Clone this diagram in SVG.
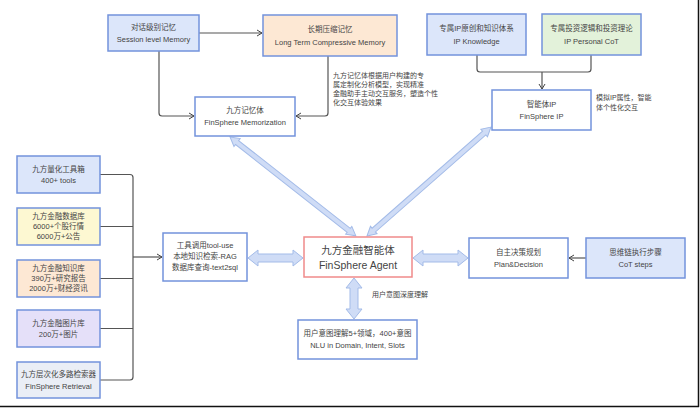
<svg xmlns="http://www.w3.org/2000/svg" width="700" height="409" viewBox="0 0 700 409">
<defs>
<marker id="ah" markerWidth="8" markerHeight="8" refX="6" refY="4" orient="auto" markerUnits="userSpaceOnUse">
<path d="M1,1 L6,4 L1,7" fill="none" stroke="#444" stroke-width="1"/>
</marker>
<style>
.box{stroke:#7393dc;stroke-width:1.5}
.t{font-family:"Liberation Sans","Noto Sans CJK SC",sans-serif;font-size:7.5px;fill:#444;text-anchor:middle}
.ta{font-family:"Liberation Sans","Noto Sans CJK SC",sans-serif;font-size:7px;fill:#444}
.big{font-family:"Liberation Sans","Noto Sans CJK SC",sans-serif;font-size:10.5px;fill:#444;text-anchor:middle}
.c{fill:none;stroke:#555;stroke-width:1.2}
.ba{fill:#cfdcf6;stroke:#a3bbe8;stroke-width:1}
</style>
</defs>
<rect width="700" height="409" fill="#fff"/>
<line x1="698.5" y1="0" x2="698.5" y2="407" stroke="#111" stroke-width="1.5"/>
<line x1="0" y1="406.5" x2="699" y2="406.5" stroke="#111" stroke-width="1.5"/>

<g id="connectors">
<line class="c" x1="199" y1="33" x2="262" y2="33" marker-end="url(#ah)"/>
<path class="c" d="M159,51 V113 Q159,116 162,116 H194" marker-end="url(#ah)"/>
<path class="c" d="M328,56 V113 Q328,116 325,116 H296" marker-end="url(#ah)"/>
<path class="c" d="M477,55 V69 Q477,72 480,72 H588 Q591,72 591,69 V55"/>
<line class="c" x1="542" y1="72" x2="542" y2="89" marker-end="url(#ah)"/>
<path class="c" d="M100,174.5 H130 Q133,174.5 133,177.5 V377 Q133,380 130,380 H100"/>
<line class="c" x1="100" y1="226.5" x2="133" y2="226.5"/>
<line class="c" x1="100" y1="278.5" x2="133" y2="278.5"/>
<line class="c" x1="100" y1="328.5" x2="133" y2="328.5"/>
<line class="c" x1="133" y1="257" x2="162" y2="257" marker-end="url(#ah)"/>
<line class="c" x1="586" y1="258" x2="569" y2="258" marker-end="url(#ah)"/>
<polygon class="ba" points="248,258 258,250 258,254 293,254 293,250 303,258 293,266 293,262 258,262 258,266"/>
<polygon class="ba" points="413,258 423,250 423,254 458,254 458,250 468,258 458,266 458,262 423,262 423,266"/>
<polygon class="ba" points="354,278 362,288 358,288 358,309 362,309 354,319 346,309 350,309 350,288 346,288"/>
<polygon class="ba" transform="translate(230,137) rotate(38.16)" points="0,0 9,-5 9,-2.5 151,-2.5 151,-5 160,0 151,5 151,2.5 9,2.5 9,5"/>
<polygon class="ba" transform="translate(367,236) rotate(-41.31)" points="0,0 9,-5 9,-2.5 156,-2.5 156,-5 165,0 156,5 156,2.5 9,2.5 9,5"/>
</g>

<g id="session"><rect class="box" x="108" y="15" width="91" height="36" fill="#dce6fa"/>
<text class="t" x="153.5" y="30">对话级别记忆</text><text class="t" x="153.5" y="42">Session level Memory</text></g>
<g id="longterm"><rect class="box" x="263" y="15" width="134" height="41" fill="#fde8d4"/>
<text class="t" x="330" y="32">长期压缩记忆</text><text class="t" x="330" y="45">Long Term Compressive Memory</text></g>
<g id="memory"><rect class="box" x="195" y="97" width="100" height="39" fill="#fff"/>
<text class="t" x="245" y="113">九方记忆体</text><text class="t" x="245" y="125">FinSphere Memorization</text></g>
<g id="memory-note">
<text class="ta" x="333" y="78">九方记忆体根据用户构建的专</text>
<text class="ta" x="333" y="87">属定制化分析模型，实现精准</text>
<text class="ta" x="333" y="96">金融助手主动交互服务，塑造个性</text>
<text class="ta" x="333" y="105">化交互体验效果</text>
</g>
<g id="ipknowledge"><rect class="box" x="427" y="14" width="99" height="41" fill="#dce6fa"/>
<text class="t" x="476.5" y="31">专属IP原创和知识体系</text><text class="t" x="476.5" y="44">IP Knowledge</text></g>
<g id="ipcot"><rect class="box" x="542" y="14" width="99" height="41" fill="#e3f2da"/>
<text class="t" x="591.5" y="31">专属投资逻辑和投资理论</text><text class="t" x="591.5" y="44">IP Personal CoT</text></g>
<g id="ip"><rect class="box" x="492" y="90" width="99" height="40" fill="#fff"/>
<text class="t" x="541.5" y="107">智能体IP</text><text class="t" x="541.5" y="119">FinSphere IP</text></g>
<g id="ip-note">
<text class="ta" x="596" y="100">模拟IP属性，智能</text>
<text class="ta" x="596" y="110">体个性化交互</text>
</g>
<g id="tools"><rect class="box" x="17" y="156" width="83" height="37" fill="#dce6fa"/>
<text class="t" x="58.5" y="172">九方量化工具箱</text><text class="t" x="58.5" y="183">400+ tools</text></g>
<g id="database"><rect class="box" x="17" y="208" width="83" height="37" fill="#fdf8d2"/>
<text class="t" x="58.5" y="219">九方金融数据库</text><text class="t" x="58.5" y="229">6000+个股行情</text><text class="t" x="58.5" y="239">6000万+公告</text></g>
<g id="knowledge"><rect class="box" x="17" y="260" width="83" height="37" fill="#fde8d4"/>
<text class="t" x="58.5" y="271">九方金融知识库</text><text class="t" x="58.5" y="281">390万+研究报告</text><text class="t" x="58.5" y="291">2000万+财经资讯</text></g>
<g id="images"><rect class="box" x="17" y="310" width="83" height="37" fill="#e5e0f9"/>
<text class="t" x="58.5" y="326">九方金融图片库</text><text class="t" x="58.5" y="337">200万+图片</text></g>
<g id="retrieval"><rect class="box" x="17" y="362" width="83" height="36" fill="#eaeef6"/>
<text class="t" x="58.5" y="377">九方层次化多路检索器</text><text class="t" x="58.5" y="389">FinSphere Retrieval</text></g>
<g id="tooluse"><rect class="box" x="163" y="233" width="84" height="48" fill="#fff"/>
<text class="t" x="205" y="248">工具调用tool-use</text><text class="t" x="205" y="259">本地知识检索-RAG</text><text class="t" x="205" y="270">数据库查询-text2sql</text></g>
<g id="agent"><rect x="304" y="237" width="108" height="40" fill="#fff" stroke="#f08a8a" stroke-width="1.5"/>
<text class="big" x="358" y="254">九方金融智能体</text><text class="big" x="358" y="269">FinSphere Agent</text></g>
<g id="nlu-note"><text class="ta" x="372" y="297">用户意图深度理解</text></g>
<g id="nlu"><rect class="box" x="298" y="320" width="119" height="39" fill="#fff"/>
<text class="t" x="357.5" y="336">用户意图理解5+领域，400+意图</text><text class="t" x="357.5" y="348">NLU in Domain, Intent, Slots</text></g>
<g id="plan"><rect class="box" x="469" y="238" width="99" height="40" fill="#fff"/>
<text class="t" x="518.5" y="255">自主决策规划</text><text class="t" x="518.5" y="267">Plan&amp;Decision</text></g>
<g id="cot"><rect class="box" x="586" y="238" width="99" height="40" fill="#dce6fa"/>
<text class="t" x="635.5" y="255">思维链执行步骤</text><text class="t" x="635.5" y="267">CoT steps</text></g>
</svg>
